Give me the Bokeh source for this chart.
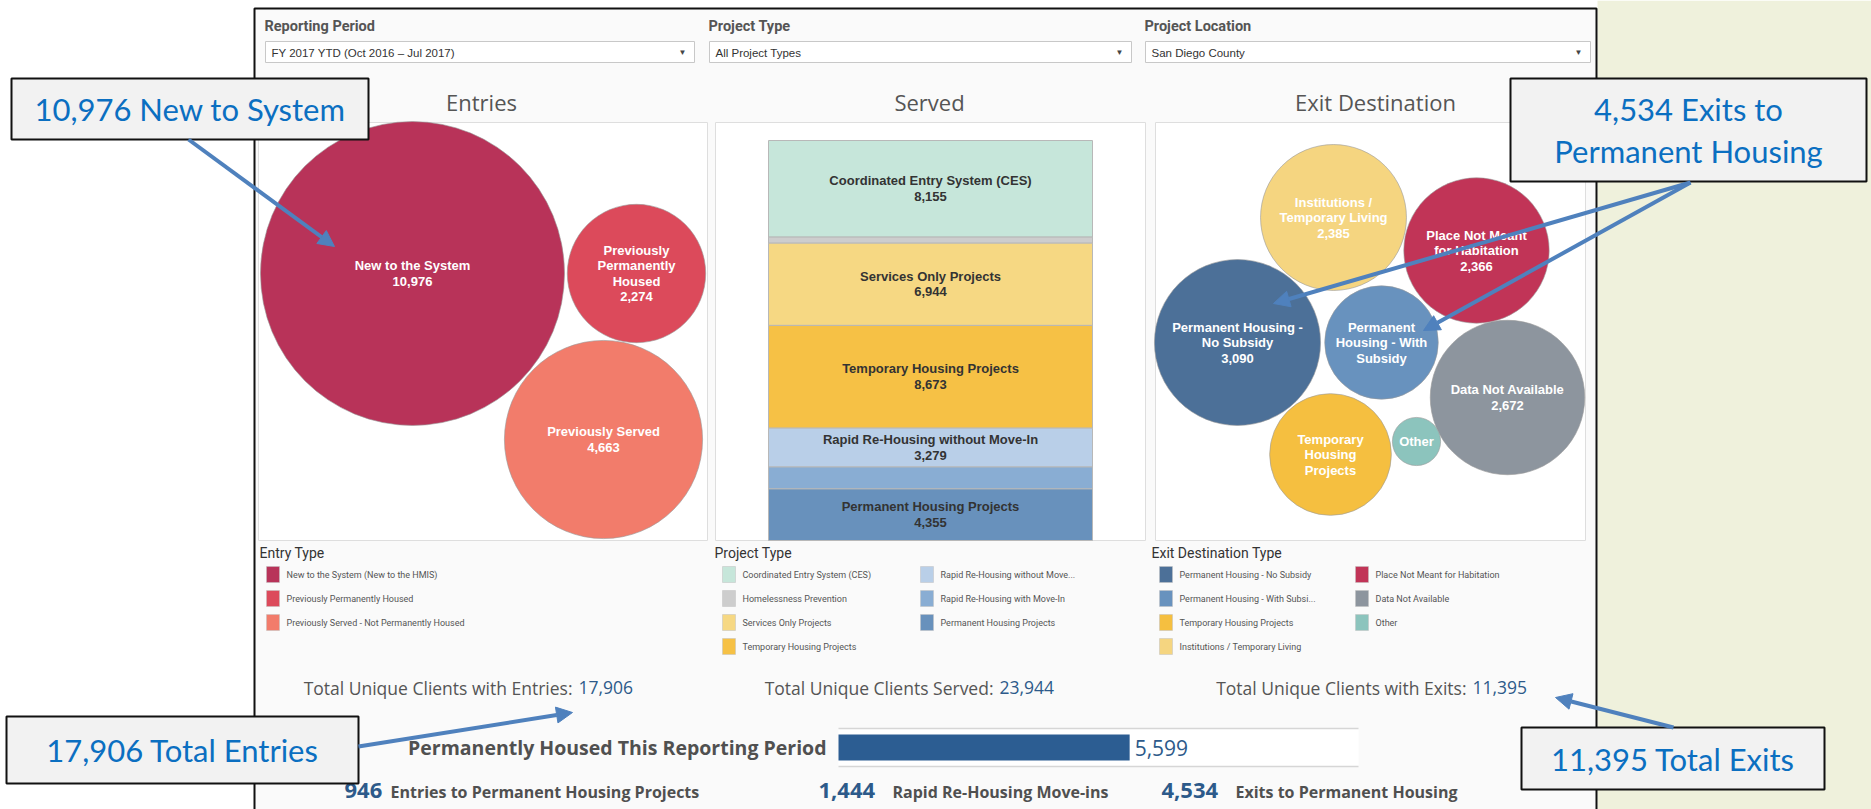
import numpy as np
from bokeh.plotting import figure
from bokeh.models import Range1d, Arrow, NormalHead
from bokeh.core.properties import value
from bokeh.embed import file_html
from bokeh.resources import INLINE

# ---------------- data ----------------
filter_labels = ["Reporting Period", "Project Type", "Project Location"]
filter_values = ["FY 2017 YTD (Oct 2016 \u2013 Jul 2017)", "All Project Types", "San Diego County"]
panel_titles = ["Entries", "Served", "Exit Destination"]

entry_names = [["New to the System"], ["Previously", "Permanently", "Housed"], ["Previously Served"]]
entry_values = [10976, 2274, 4663]
entry_legend = ["New to the System (New to the HMIS)", "Previously Permanently Housed",
                "Previously Served - Not Permanently Housed"]
entry_colors = ["#b83359", "#dc4a5b", "#f27c6b"]

served_names = ["Coordinated Entry System (CES)", "Homelessness Prevention", "Services Only Projects",
                "Temporary Housing Projects", "Rapid Re-Housing without Move-In",
                "Rapid Re-Housing with Move-In", "Permanent Housing Projects"]
served_values = [8155, 510, 6944, 8673, 3279, 1850, 4355]
served_show = [True, False, True, True, True, False, True]
served_legend = ["Coordinated Entry System (CES)", "Homelessness Prevention", "Services Only Projects",
                 "Temporary Housing Projects", "Rapid Re-Housing without Move...",
                 "Rapid Re-Housing with Move-In", "Permanent Housing Projects"]
served_colors = ["#c6e6da", "#cdcdcd", "#f6d883", "#f6c145", "#b9cfe8", "#89add3", "#6891bc"]

exit_names = [["Permanent Housing -", "No Subsidy"], ["Permanent", "Housing - With", "Subsidy"],
              ["Temporary", "Housing", "Projects"], ["Institutions /", "Temporary Living"],
              ["Place Not Meant", "for Habitation"], ["Data Not Available"], ["Other"]]
exit_values = [3090, 1444, 1660, 2385, 2366, 2672, 260]
exit_show_value = [True, False, False, True, True, True, False]
exit_legend = ["Permanent Housing - No Subsidy", "Permanent Housing - With Subsi...",
               "Temporary Housing Projects", "Institutions / Temporary Living",
               "Place Not Meant for Habitation", "Data Not Available", "Other"]
exit_colors = ["#4c7098", "#6892be", "#f5bf40", "#f5d580", "#c13457", "#8d959e", "#8cc4bd"]

total_labels = ["Total Unique Clients with Entries:", "Total Unique Clients Served:",
                "Total Unique Clients with Exits:"]
total_values = [17906, 23944, 11395]
housed_label = "Permanently Housed This Reporting Period"
housed_value = 5599
housed_axis_max = 10000
kpi_values = [946, 1444, 4534]
kpi_labels = ["Entries to Permanent Housing Projects", "Rapid Re-Housing Move-ins",
              "Exits to Permanent Housing"]

callout_texts = [["10,976 New to System"], ["4,534 Exits to", "Permanent Housing"],
                 ["17,906 Total Entries"], ["11,395 Total Exits"]]

# ---------------- layout constants (pixels) ----------------
W, H = 1871, 809
TITLE_FONT = "Open Sans"
TXT_FONT = "Roboto"
LBL_FONT = "Liberation Sans"
CALL_FONT = "Lato"
GRAY = "#555555"
NUMBLUE = "#2d5a8a"

SV_TOP, SV_BOT = 140, 540
SV_L, SV_R = 768, 1092
HB_L, HB_R = 838, 1358

sv_total = float(sum(served_values))
sv_k = (SV_BOT - SV_TOP) / sv_total
hb_k = (HB_R - HB_L) / housed_axis_max

p = figure(width=W, height=H, x_range=Range1d(0, W), y_range=Range1d(H, 0),
           output_backend="svg", toolbar_location=None, x_axis_type=None, y_axis_type=None,
           min_border=0, min_border_left=0, min_border_right=0, min_border_top=0, min_border_bottom=0)
p.extra_y_ranges = {"served": Range1d(start=(H - SV_TOP) / sv_k, end=(0 - SV_TOP) / sv_k)}
p.extra_x_ranges = {"housed": Range1d(start=(0 - HB_L) / hb_k, end=(W - HB_L) / hb_k)}
p.grid.visible = False
p.outline_line_color = None
p.background_fill_color = "white"
p.border_fill_color = "white"


def txt(x, y, s, size, color=GRAY, font=TXT_FONT, style="normal", align="left",
        baseline="middle", **kw):
    p.text(x=[x], y=[y], text=[s], text_font=value(font), text_font_size=value(f"{size}px"),
           text_color=color, text_font_style=style, text_align=align, text_baseline=baseline, **kw)


def box(l, r, t, b, fill, line=None, lw=1):
    p.quad(left=[l], right=[r], top=[t], bottom=[b], fill_color=fill,
           line_color=line if line else None, line_width=lw)


# backgrounds
box(1597, W, 0, H, "#eff1dc")
box(254, 1596, 8, 830, "#fafafa", "#111111", 2)

# filters
flt_x = [(265, 694), (709, 1131), (1145, 1590)]
for (l, r), lab, val in zip(flt_x, filter_labels, filter_values):
    txt(l - 1, 26, lab, 14.5, "#555555", TXT_FONT, "bold")
    box(l, r, 41, 62, "white", "#c8c8c8", 1)
    txt(l + 6, 52, val, 11.5, "#333333", LBL_FONT)
    txt(r - 12, 52, "\u25bc", 8, "#444444", LBL_FONT, align="center")

# panel boxes and titles
panels = [(258, 707), (715, 1145), (1155, 1585)]
title_x = [481, 929, 1375]
for (l, r), t, tx in zip(panels, panel_titles, title_x):
    box(l, r, 122, 540, "white", "#dedede", 1)
    txt(tx, 101, t, 22, "#555555", TITLE_FONT, align="center")

# ---- Entries bubbles ----
ent_cx = [412, 636, 603]
ent_cy = [273, 273, 439]
ent_r = [1.451 * np.sqrt(v) for v in entry_values]
p.circle(x=ent_cx, y=ent_cy, radius=ent_r, fill_color=entry_colors, line_color="#9a9a9a",
         line_alpha=0.6, line_width=1)
for cx, cy, names, v in zip(ent_cx, ent_cy, entry_names, entry_values):
    lines = names + [f"{v:,}"]
    n = len(lines)
    for i, s in enumerate(lines):
        txt(cx, cy + (i - (n - 1) / 2) * 15.5, s, 13, "white", LBL_FONT, "bold", align="center")

# ---- Served stacked bar ----
cum = np.cumsum(served_values)
tops = cum - np.array(served_values)
p.quad(left=SV_L, right=SV_R, top=tops.tolist(), bottom=cum.tolist(), y_range_name="served",
       fill_color=served_colors, line_color="#b8b8b8", line_width=1)
for t0, b0, name, v, show in zip(tops, cum, served_names, served_values, served_show):
    if not show:
        continue
    mid = (t0 + b0) / 2
    for off, s in ((-8, name), (7.5, f"{v:,}")):
        p.text(x=[(SV_L + SV_R) / 2], y=[mid], text=[s], y_range_name="served", y_offset=off,
               text_font=value(LBL_FONT), text_font_size=value("13px"), text_color="#333333",
               text_font_style="bold", text_align="center", text_baseline="middle")

# ---- Exit bubbles ----
ex_cx = [1237, 1381, 1330, 1333, 1476, 1507, 1416]
ex_cy = [342, 342, 454, 217, 250, 397, 441]
ex_r = [1.494 * np.sqrt(v) for v in exit_values]
p.circle(x=ex_cx, y=ex_cy, radius=ex_r, fill_color=exit_colors, line_color="#9a9a9a",
         line_alpha=0.6, line_width=1)
for cx, cy, names, v, sv in zip(ex_cx, ex_cy, exit_names, exit_values, exit_show_value):
    lines = names + ([f"{v:,}"] if sv else [])
    n = len(lines)
    for i, s in enumerate(lines):
        txt(cx, cy + (i - (n - 1) / 2) * 15.5, s, 13, "white", LBL_FONT, "bold", align="center")

# ---- Legends ----
ROWS = [574, 598, 622, 646]


def legend(title, tx, cols):
    txt(tx, 552, title, 14, "#333333", TXT_FONT)
    for sx, items in cols:
        for row, (lab, col) in enumerate(items):
            y = ROWS[row]
            box(sx, sx + 13, y - 8, y + 8, col, "#c0c0c0", 0.5)
            txt(sx + 20, y, lab, 9, "#555555", TXT_FONT)


legend("Entry Type", 259, [(266, list(zip(entry_legend, entry_colors)))])
legend("Project Type", 714, [(722, list(zip(served_legend[:4], served_colors[:4]))),
                             (920, list(zip(served_legend[4:], served_colors[4:])))])
legend("Exit Destination Type", 1151, [(1159, list(zip(exit_legend[:4], exit_colors[:4]))),
                                       (1355, list(zip(exit_legend[4:], exit_colors[4:])))])

# ---- Totals ----
splits = [572, 993, 1466]
for sx, lab, v in zip(splits, total_labels, total_values):
    txt(sx, 687, lab, 17.5, "#555555", TITLE_FONT, align="right")
    txt(sx + 6, 687, f"{v:,}", 17.5, NUMBLUE, TITLE_FONT)

# ---- Permanently housed bar ----
txt(826, 747, housed_label, 19.5, "#505050", TITLE_FONT, "bold", align="right")
p.quad(left=[0], right=[housed_axis_max], top=[728], bottom=[766], x_range_name="housed",
       fill_color="white", line_color=None)
p.segment(x0=[0, 0], x1=[housed_axis_max] * 2, y0=[728, 766], y1=[728, 766], x_range_name="housed",
          line_color="#d6d6d6", line_width=1.5)
p.quad(left=[0], right=[housed_value], top=[734], bottom=[760], x_range_name="housed",
       fill_color="#2c5d92", line_color=None)
p.text(x=[housed_value], y=[747], text=[f"{housed_value:,}"], x_range_name="housed", x_offset=5,
       text_font=value(TITLE_FONT), text_font_size=value("21px"), text_color=NUMBLUE,
       text_align="left", text_baseline="middle")

# ---- KPI row ----
kpi_num_x = [344, 818, 1161]
kpi_lab_x = [390, 892, 1235]
for nx, lx, v, lab in zip(kpi_num_x, kpi_lab_x, kpi_values, kpi_labels):
    txt(nx, 790, f"{v:,}", 22, NUMBLUE, TITLE_FONT, "bold")
    txt(lx, 791, lab, 16, "#505050", TITLE_FONT, "bold")

# ---- Callouts ----
ARROW_C = "#4f81bd"
CALL_C = "#0b6fc1"
callout_boxes = [(11, 368, 78, 139), (1510, 1866, 78, 181), (6, 358, 716, 783), (1521, 1824, 727, 789)]
for (l, r, t, b), lines in zip(callout_boxes, callout_texts):
    box(l, r, t, b, "#f2f2f2", "#111111", 2)
    n = len(lines)
    for i, s in enumerate(lines):
        txt((l + r) / 2, (t + b) / 2 + (i - (n - 1) / 2) * 42, s, 31, CALL_C, CALL_FONT, align="center")

arrows = [((188, 139), (334, 246)), ((1690, 182), (1273, 303)), ((1690, 182), (1423, 330)),
          ((358, 746), (572, 712)), ((1673, 727), (1555, 697))]
for (x0, y0), (x1, y1) in arrows:
    p.add_layout(Arrow(end=NormalHead(size=16, fill_color=ARROW_C, line_color=ARROW_C),
                       x_start=x0, y_start=y0, x_end=x1, y_end=y1,
                       line_color=ARROW_C, line_width=4))

open("out.html", "w").write(file_html(p, INLINE))
